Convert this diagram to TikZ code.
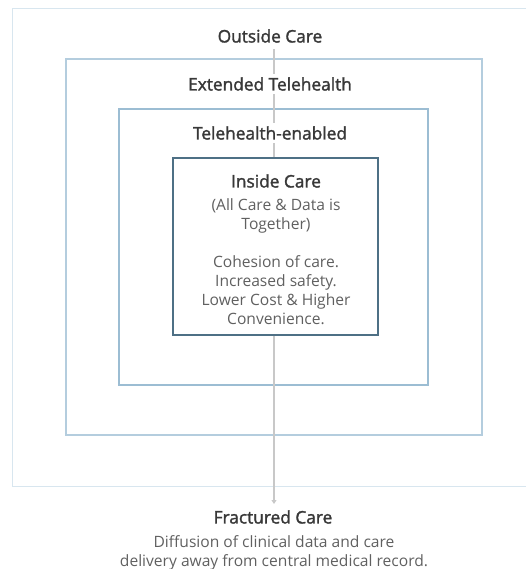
\documentclass[tikz,border=0pt]{standalone}
\usepackage{fontspec}
\setmainfont{Open Sans}
\newfontfamily\titlefont[FakeBold=1.6]{Open Sans}
\usetikzlibrary{arrows.meta}
\definecolor{titlegray}{HTML}{383838}
\definecolor{bodygray}{HTML}{606060}
\definecolor{linegray}{HTML}{C8C8C8}
\definecolor{boxa}{HTML}{D8E6EF}
\definecolor{boxb}{HTML}{B4CDDE}
\definecolor{boxc}{HTML}{9CBDD3}
\definecolor{boxd}{HTML}{4E7085}
\begin{document}
\begin{tikzpicture}[x=1pt,y=-1pt,
  title/.style={font=\titlefont\fontsize{17.3}{20}\selectfont, text=titlegray, fill=white, inner sep=3pt},
  body/.style={font=\fontsize{15.6}{19}\selectfont, text=bodygray, align=center, inner sep=0pt},
  frame/.style={draw, line width=1.8pt},
]
\useasboundingbox (0,0) rectangle (526,569);
\clip (0,0) rectangle (526,569);
% boxes
\draw[frame, boxa] (12.5,8.5) rectangle (560,486.5);
\draw[frame, boxb] (66,59) rectangle (482,435);
\draw[frame, boxc] (119,109) rectangle (428,385);
% titles
\node[title] (outside) at (270,36) {Outside Care};
\coordinate (tip) at (274,504);
\draw[linegray, line width=1.6pt, -{Triangle[length=4pt,width=5pt]}] (274,49) -- (tip);
\node[title] (extended) at (270,84) {Extended Telehealth};
\node[title] (enabled) at (270,133) {Telehealth-enabled};
\node[frame, boxd, fill=white, minimum width=205pt, minimum height=177pt] (inside) at (275.5,246.5) {};
\node[title, fill=none] (insidet) at (276,181) {Inside Care};
\node[body, anchor=north] (insideb) at (276,198) {(All Care \& Data is\\Together)\\[19pt]Cohesion of care.\\Increased safety.\\Lower Cost \& Higher\\Convenience.};
\node[title] (fractured) at (273,517) {Fractured Care};
\node[body, anchor=north] (fracturedb) at (274,535.5) {Diffusion of clinical data and care\\delivery away from central medical record.};
\end{tikzpicture}
\end{document}
